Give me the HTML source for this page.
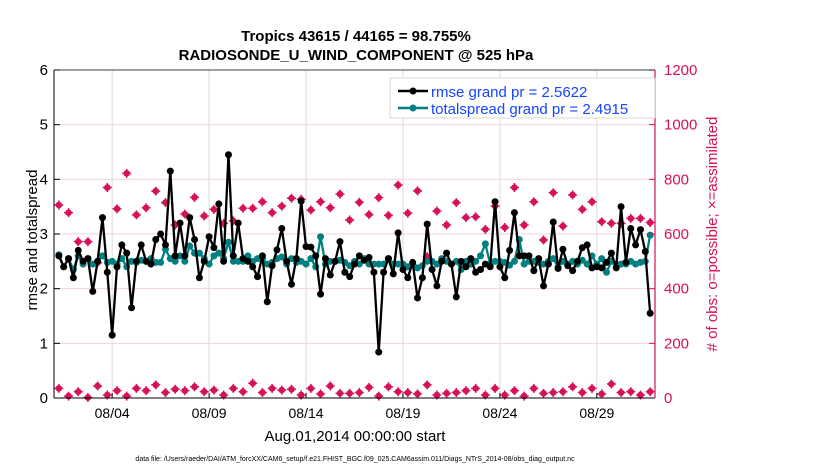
<!DOCTYPE html>
<html><head><meta charset="utf-8"><style>
body{margin:0;background:#fff;}
svg{display:block;font-family:"Liberation Sans",sans-serif;}
</style></head><body>
<svg id="chart" width="830" height="470" viewBox="0 0 830 470" xmlns="http://www.w3.org/2000/svg">
<text x="356" y="41" font-size="15" font-weight="bold" text-anchor="middle">Tropics 43615 / 44165 = 98.755%</text>
<text x="356" y="60" font-size="15" font-weight="bold" text-anchor="middle">RADIOSONDE_U_WIND_COMPONENT @ 525 hPa</text>
<g id="grid"></g>
<g id="marks"></g>
<g id="axes"></g>
<text transform="translate(37,240) rotate(-90)" font-size="15" text-anchor="middle">rmse and totalspread</text>
<text transform="translate(717,234) rotate(-90)" font-size="15" text-anchor="middle" fill="#d6115a"># of obs: o=possible; ×=assimilated</text>
<text x="355" y="441" font-size="15" text-anchor="middle">Aug.01,2014 00:00:00 start</text>
<text x="355" y="461" font-size="7" text-anchor="middle">data file: /Users/raeder/DAI/ATM_forcXX/CAM6_setup/f.e21.FHIST_BGC.f09_025.CAM6assim.011/Diags_NTrS_2014-08/obs_diag_output.nc</text>
<g>
<rect x="390" y="78" width="265" height="40" fill="#fff" stroke="#d0d0d0" stroke-width="0.8"/>
<line x1="398" y1="91" x2="428" y2="91" stroke="#000" stroke-width="2.5"/><circle cx="413" cy="91" r="3.5" fill="#000"/>
<text x="431" y="97" font-size="15" fill="#1545ff">rmse grand pr = 2.5622</text>
<line x1="398" y1="108" x2="428" y2="108" stroke="#008080" stroke-width="2.5"/><circle cx="413" cy="108" r="3.5" fill="#008080"/>
<text x="431" y="114" font-size="15" fill="#1545ff">totalspread grand pr = 2.4915</text>
</g>
</svg>
<script>
const rmse=[2.6,2.4,2.55,2.2,2.7,2.5,2.55,1.95,2.5,3.3,2.3,1.15,2.4,2.8,2.65,1.65,2.5,2.8,2.5,2.45,2.9,3.0,2.8,4.15,2.6,3.2,2.6,3.3,2.9,2.2,2.5,2.95,2.75,3.55,2.5,4.45,2.6,3.2,2.55,2.5,2.4,2.22,2.6,1.76,2.42,2.71,3.1,2.5,2.08,2.55,3.6,2.77,2.76,2.6,1.9,2.55,2.25,2.5,2.86,2.3,2.22,2.45,2.6,2.52,2.57,2.3,0.84,2.3,2.55,2.27,3.02,2.35,2.2,2.48,1.83,2.2,3.18,2.35,2.05,2.5,2.65,2.45,1.85,2.5,2.4,2.55,2.3,2.35,2.45,2.4,3.59,2.4,2.2,2.7,3.39,2.6,2.6,2.6,2.33,2.55,2.05,2.45,3.22,2.37,2.72,2.42,2.33,2.5,2.75,2.8,2.38,2.4,2.38,2.48,2.65,2.38,3.5,2.48,3.1,2.8,3.08,2.68,1.55];
const spread=[2.62,2.4,2.55,2.35,2.6,2.45,2.55,2.45,2.5,2.6,2.48,2.5,2.45,2.55,2.4,2.5,2.48,2.52,2.5,2.55,2.48,2.48,2.72,2.55,2.5,2.6,2.5,2.78,2.65,2.65,2.55,2.45,2.6,2.65,2.55,2.85,2.5,2.5,2.5,2.6,2.5,2.55,2.55,2.45,2.48,2.55,2.58,2.45,2.55,2.48,2.5,2.45,2.55,2.4,2.95,2.45,2.5,2.5,2.52,2.48,2.42,2.5,2.45,2.55,2.45,2.45,2.45,2.45,2.55,2.45,2.45,2.45,2.4,2.45,2.38,2.42,2.5,2.5,2.45,2.55,2.5,2.45,2.5,2.35,2.5,2.45,2.5,2.6,2.82,2.45,2.5,2.5,2.48,2.43,2.5,2.9,2.45,2.5,2.5,2.48,2.45,2.5,2.55,2.4,2.5,2.45,2.5,2.45,2.52,2.45,2.6,2.45,2.55,2.3,2.5,2.45,2.45,2.45,2.5,2.45,2.48,2.5,2.98];
const obsPossible=[706,678,572,572,495,770,692,822,670,696,757,715,633,673,734,666,690,639,648,694,694,718,678,702,731,727,688,718,696,746,651,716,671,733,668,779,676,758,517,684,633,715,660,663,617,702,624,770,633,718,578,751,629,743,690,718,645,639,639,657,657,642];
const obsLow=[35,7,23,2,44,11,27,7,35,27,48,20,32,27,41,23,29,11,35,23,54,20,35,29,32,11,35,15,44,17,17,20,39,7,41,23,20,15,48,11,17,20,27,35,11,35,11,27,7,35,17,20,23,41,20,35,15,51,20,23,11,23];
const xTickDays=[3,8,13,18,23,28];
const xTickLabels=["08/04","08/09","08/14","08/19","08/24","08/29"];
const yTicksLeft=[0,1,2,3,4,5,6];
const yTicksRight=[0,200,400,600,800,1000,1200];

const NS="http://www.w3.org/2000/svg";
const X0=54,X1=655,Y0=398,Y1=70,DAYS=31;
const xs=t=>X0+t*(X1-X0)/DAYS;
const yL=v=>Y0-v*(Y0-Y1)/6;
const yR=v=>Y0-v*(Y0-Y1)/1200;
function mk(tag,attrs,parent){const e=document.createElementNS(NS,tag);for(const k in attrs)e.setAttribute(k,attrs[k]);parent.appendChild(e);return e;}
const grid=document.getElementById('grid'),marks=document.getElementById('marks'),axes=document.getElementById('axes');
xTickDays.forEach((d,i)=>{
  const g=mk('line',{x1:xs(d),x2:xs(d),y1:Y1,y2:Y0,stroke:'#dcdcdc','stroke-width':1},grid);
  
  
  mk('line',{x1:xs(d),x2:xs(d),y1:Y0,y2:Y0-5,stroke:'#000'},axes);
  const l=mk('text',{x:xs(d),y:Y0+20,'font-size':14,'text-anchor':'middle'},axes);
  l.textContent=xTickLabels[i];
  
  
});
yTicksRight.forEach(v=>{
  if(v>0&&v<1200){const g=mk('line',{x1:X0,x2:X1,y1:yR(v),y2:yR(v),stroke:'#f3d3df','stroke-width':1},grid);
  
  }
  mk('line',{x1:X1,x2:X1-6,y1:yR(v),y2:yR(v),stroke:'#d6115a'},axes);
  const l=mk('text',{x:X1+9,y:yR(v)+5,'font-size':15,fill:'#d6115a'},axes);
  l.textContent=v;
  
  
});
yTicksLeft.forEach(v=>{
  mk('line',{x1:X0,x2:X0+6,y1:yL(v),y2:yL(v),stroke:'#000'},axes);
  const l=mk('text',{x:X0-6,y:yL(v)+5,'font-size':15,'text-anchor':'end'},axes);
  l.textContent=v;
  
  
});
mk('line',{x1:X0,x2:X1,y1:Y1,y2:Y1,stroke:'#000','stroke-width':0.8},axes);
mk('line',{x1:X0,x2:X1,y1:Y0,y2:Y0,stroke:'#000','stroke-width':1},axes);
mk('line',{x1:X0,x2:X0,y1:Y1,y2:Y0,stroke:'#000','stroke-width':1},axes);
mk('line',{x1:X1,x2:X1,y1:Y1,y2:Y0,stroke:'#d6115a','stroke-width':1.2},axes);

function obsMarker(x,y,name){
  const g=mk('g',{},marks);
  
  
  mk('circle',{cx:x,cy:y,r:3.3,fill:'#d6115a'},g);
  mk('path',{d:`M${x-4.5},${y}H${x+4.5}M${x},${y-4.5}V${y+4.5}`,stroke:'#d6115a','stroke-width':1.5},g);
}
obsPossible.forEach((v,j)=>obsMarker(xs(0.25+j*0.5),yR(v),'obs-possible-marker'));
obsLow.forEach((v,j)=>obsMarker(xs(0.25+j*0.5),yR(v),'obs-low-marker'));

function series(arr,color,name){
  const pts=arr.map((v,i)=>[xs((i+1)*0.25),yL(v)]);
  const p=mk('polyline',{points:pts.map(p=>p.join(',')).join(' '),fill:'none',stroke:color,'stroke-width':2.3,'stroke-linejoin':'round'},marks);
  
  
  pts.forEach(([x,y])=>{
    const c=mk('circle',{cx:x,cy:y,r:3.5,fill:color},marks);
    
    
  });
}
series(spread,'#008080','totalspread');
series(rmse,'#000000','rmse');
</script>
</body></html>
